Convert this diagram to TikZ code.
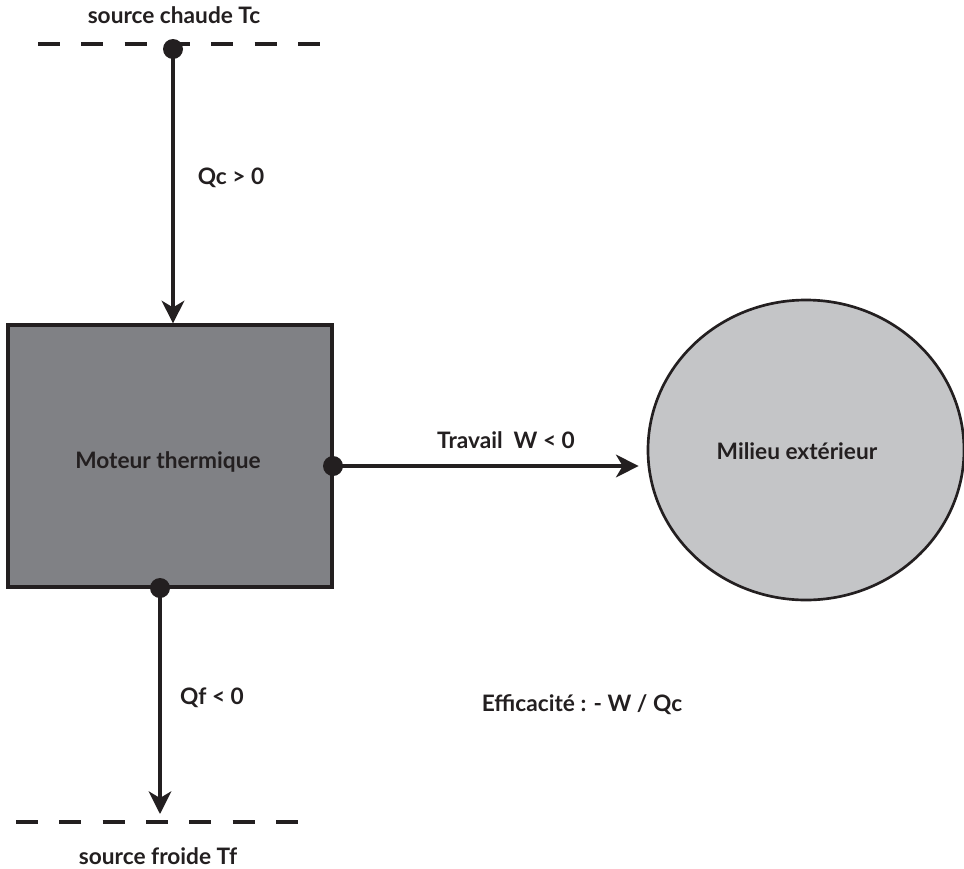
\documentclass[tikz,border=0pt]{standalone}
\usepackage{fontspec}
\setmainfont{Lato}
\usetikzlibrary{arrows.meta,shapes.geometric}

\definecolor{enginegray}{HTML}{808185}
\definecolor{outergray}{HTML}{C4C5C7}
\definecolor{inkblack}{HTML}{231F20}

\tikzset{
  lbl/.style={font=\fontsize{17}{20}\selectfont\bfseries, text=inkblack, inner sep=0pt},
  flow/.style={draw=inkblack, line width=2.4pt,
    -{Stealth[length=17pt,width=17pt,inset=5pt]}},
  reservoir/.style={draw=inkblack, line width=2.4pt, dash pattern=on 16.5pt off 16pt},
  port/.style={circle, fill=inkblack, inner sep=0pt, minimum size=15pt},
}

\begin{document}
\begin{tikzpicture}[x=0.75pt,y=-0.75pt]
  \useasboundingbox (0,0) rectangle (964,868);
  \fill[white] (0,0) rectangle (964,868);

  % heat reservoirs (dashed lines)
  \draw[reservoir] (38,44) -- (324,44);
  \draw[reservoir] (16,822) -- (300,822);

  % engine and surroundings
  \node[draw=inkblack, fill=enginegray, line width=2.4pt, rectangle,
        minimum width=243pt, minimum height=196.5pt] (engine) at (170,456) {};
  \node[lbl] at (168,462) {Moteur thermique};

  \node[ellipse, draw=inkblack, fill=outergray, line width=2pt, inner sep=0pt,
        minimum width=237pt, minimum height=225pt] (env) at (806,450) {};
  \node[lbl] at (797,451) {Milieu extérieur};

  % connection points
  \node[port] (ptop) at (173,49) {};
  \node[port] (pright) at (333,466) {};
  \node[port] (pbottom) at (160,588) {};
  \coordinate (cold) at (160,822);

  % energy transfers
  \draw[flow] (ptop.center) -- (ptop |- engine.north);
  \draw[flow] (pright.center) -- ([xshift=-6pt]pright -| env.west);
  \draw[flow] (pbottom.center) -- ([yshift=6pt]cold);

  % labels
  \node[lbl] at (174,15) {source chaude Tc};
  \node[lbl] at (231,178) {Qc > 0};
  \node[lbl] at (506,440) {Travail\ \ W < 0};
  \node[lbl] at (212,698) {Qf < 0};
  \node[lbl] at (158,856) {source froide Tf};
  \node[lbl] at (582,705) {Efficacité : - W / Qc};
\end{tikzpicture}
\end{document}
